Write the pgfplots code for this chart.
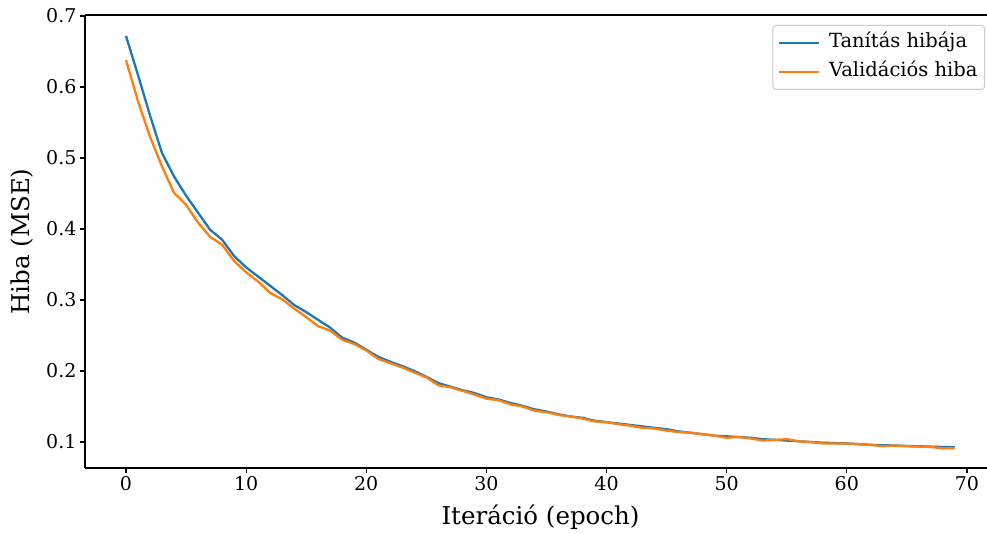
\documentclass[border=0pt]{standalone}
\usepackage{fontspec}
\setmainfont{DejaVu Serif}
\usepackage{pgfplots}
\usepackage{pgfplotstable}
\pgfplotsset{compat=1.18}
\definecolor{tabblue}{HTML}{1F77B4}
\definecolor{taborange}{HTML}{FF7F0E}

\pgfplotstableread{
i train val
0 0.672 0.638
1 0.617 0.580
2 0.560 0.530
3 0.507 0.488
4 0.474 0.451
5 0.447 0.434
6 0.423 0.409
7 0.399 0.389
8 0.385 0.378
9 0.362 0.355
10 0.346 0.339
11 0.333 0.326
12 0.320 0.310
13 0.307 0.301
14 0.293 0.288
15 0.283 0.276
16 0.272 0.263
17 0.261 0.257
18 0.247 0.244
19 0.240 0.238
20 0.230 0.229
21 0.220 0.217
22 0.213 0.211
23 0.207 0.205
24 0.200 0.198
25 0.192 0.191
26 0.183 0.180
27 0.178 0.177
28 0.173 0.172
29 0.169 0.167
30 0.163 0.161
31 0.160 0.159
32 0.155 0.153
33 0.151 0.150
34 0.146 0.144
35 0.143 0.142
36 0.139 0.138
37 0.136 0.136
38 0.134 0.133
39 0.130 0.129
40 0.128 0.128
41 0.126 0.125
42 0.124 0.123
43 0.122 0.120
44 0.120 0.119
45 0.118 0.116
46 0.115 0.114
47 0.113 0.113
48 0.111 0.111
49 0.109 0.109
50 0.108 0.106
51 0.107 0.107
52 0.106 0.105
53 0.104 0.102
54 0.103 0.103
55 0.102 0.104
56 0.101 0.101
57 0.100 0.100
58 0.099 0.098
59 0.0985 0.098
60 0.098 0.098
61 0.097 0.097
62 0.096 0.096
63 0.0955 0.094
64 0.095 0.095
65 0.0945 0.094
66 0.094 0.0935
67 0.0935 0.093
68 0.093 0.091
69 0.0925 0.0915
}\lossdata

\begin{document}
\begin{tikzpicture}
\begin{axis}[
  at={(85pt,65pt)}, anchor=south west,
  scale only axis, width=902pt, height=453pt,
  xmin=-3.41, xmax=71.67, ymin=0.0634, ymax=0.7014,
  axis x line*=box, axis y line*=left,
  axis line style={line width=1.1pt, black},
  xtick={0,10,...,70}, ytick={0.1,0.2,0.3,0.4,0.5,0.6,0.7},
  xtick pos=left, ytick pos=left,
  tick align=outside, major tick length=5pt,
  every tick/.style={black, line width=1.1pt},
  /pgf/number format/assume math mode=true,
  yticklabel style={/pgf/number format/fixed, /pgf/number format/precision=1, /pgf/number format/fixed zerofill},
  tick label style={font=\fontsize{19}{19}\selectfont},
  xlabel={Iteráció (epoch)}, ylabel={Hiba (MSE)},
  xlabel style={font=\fontsize{24.5}{25}\selectfont, at={(axis description cs:0.505,-0.108)}, anchor=center},
  ylabel style={font=\fontsize{24.5}{25}\selectfont, at={(axis description cs:-0.0698,0.5)}, anchor=center, rotate=0},
  legend cell align=left,
  legend style={at={(axis description cs:0.9978,0.978)}, anchor=north east,
    draw=black!20, rounded corners=3pt, line width=1pt,
    font=\fontsize{19.5}{22}\selectfont,
    inner xsep=5pt, inner ysep=3pt, column sep=7pt,
    nodes={inner xsep=2pt, inner ysep=5pt, text height=14pt, text depth=5pt}},
  legend image code/.code={\draw[#1, line width=2.1pt] (0pt,0pt) -- (40pt,0pt);},
]
\addplot[tabblue, line width=2.3pt] table[x=i, y=train] {\lossdata};
\addlegendentry{Tanítás hibája}
\addplot[taborange, line width=2.3pt] table[x=i, y=val] {\lossdata};
\addlegendentry{Validációs hiba}
\end{axis}
\pgfresetboundingbox
\useasboundingbox (0,0) rectangle (987pt,533pt);
\end{tikzpicture}
\end{document}
